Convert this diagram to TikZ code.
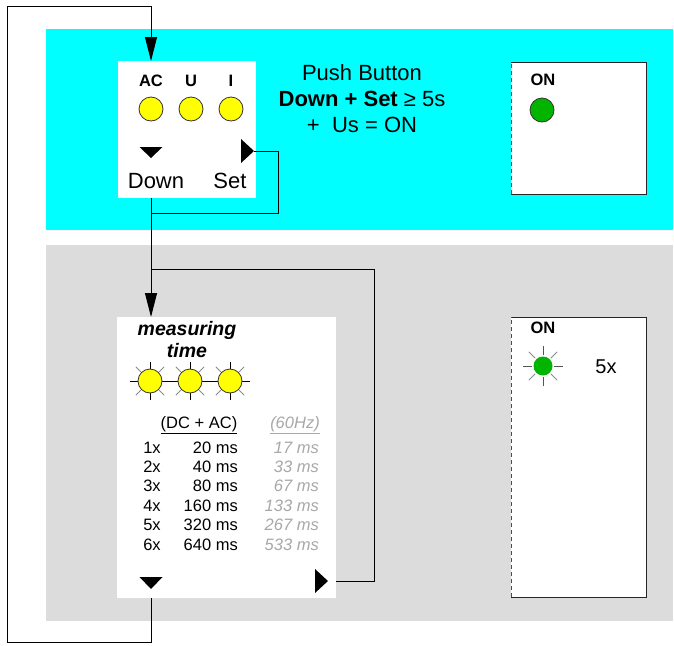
\documentclass[tikz,border=0pt]{standalone}
\usepackage{fontspec}
\setmainfont{Liberation Sans}
\usetikzlibrary{arrows.meta}
\definecolor{cyanbg}{HTML}{00FFFF}
\definecolor{graybg}{HTML}{DCDCDC}
\definecolor{ledyellow}{HTML}{FFFF00}
\definecolor{ledgreen}{HTML}{00B400}
\definecolor{dimtext}{HTML}{A8A8A8}
\definecolor{raydark}{HTML}{555555}
\definecolor{raylight}{HTML}{8C8C8C}
\begin{document}
\begin{tikzpicture}[x=1pt,y=-1pt,
  panel/.style={fill=#1, inner sep=0pt, anchor=north west, draw=none},
  whitebox/.style={fill=white, inner sep=0pt, anchor=north west, draw=none},
  wire/.style={line width=1pt, black},
  arr/.style={-{Triangle[length=24pt,width=12pt]}},
  led/.style={circle, fill=ledyellow, draw=black!80, line width=0.8pt, minimum size=24pt, inner sep=0pt},
  greenled/.style={circle, fill=ledgreen, draw=black!80, line width=0.8pt, minimum size=24pt, inner sep=0pt},
  smallbold/.style={inner sep=0pt, anchor=base, font=\fontsize{16.5}{18}\selectfont\bfseries},
  bigtxt/.style={inner sep=0pt, anchor=base, font=\fontsize{22}{26}\selectfont},
  pushtxt/.style={inner sep=0pt, anchor=base, font=\fontsize{22}{26}\selectfont},
  tabtxt/.style={inner sep=0pt, font=\fontsize{16.5}{19}\selectfont},
  dimtxt/.style={inner sep=0pt, text=dimtext, font=\fontsize{16.5}{19}\selectfont\itshape},
  boxedge/.style={draw=black!85, line width=0.9pt},
  dashedge/.style={draw=black!70, line width=1pt, dash pattern=on 4pt off 3pt}
]
\useasboundingbox (0,0) rectangle (674,645);
\fill[white] (0,0) rectangle (674,645);

% background panels
\node[panel=cyanbg, minimum width=627pt, minimum height=201pt] (top) at (46,29) {};
\node[panel=graybg, minimum width=627pt, minimum height=376pt] (bot) at (46,245) {};

% white boxes
\node[whitebox, minimum width=138pt, minimum height=137pt] (btn) at (118,61) {};
\node[whitebox, minimum width=219pt, minimum height=281pt] (meas) at (117,317) {};
\node[whitebox, minimum width=135pt, minimum height=132pt] (on1) at (511,62) {};
\node[whitebox, minimum width=135pt, minimum height=280pt] (on2) at (511,317) {};
\draw[boxedge] (on1.north west) -- (on1.north east) -- (on1.south east) -- (on1.south west);
\draw[dashedge] (on1.south west) -- (on1.north west);
\draw[boxedge] (on2.north west) -- (on2.north east) -- (on2.south east) -- (on2.south west);
\draw[dashedge] (on2.south west) -- (on2.north west);

% button box content
\node[smallbold] (lac) at (151,86) {AC};
\node[smallbold] (lu) at (191,86) {U};
\node[smallbold] (li) at (231,86) {I};
\node[led] (ledac) at (151,109) {};
\node[led] (ledu) at (191,109) {};
\node[led] (ledi) at (231,109) {};
\coordinate (d1) at (151,158);
\fill[black] (d1) -- (139.5,147) -- (162.5,147) -- cycle;
\coordinate (settip) at (254,151);
\fill[black] (settip) -- (241,139) -- (241,163) -- cycle;
\node[bigtxt] (ldown) at (156,188) {Down};
\node[bigtxt] (lset) at (230,188) {Set};

% push button text
\node[pushtxt] (p1) at (362,80) {Push Button};
\node[pushtxt] (p2) at (362,106) {\textbf{Down + Set} ≥ 5s};
\node[pushtxt] (p3) at (362,132) {+\ \ Us = ON};

% ON box 1
\node[smallbold] (on1lbl) at (543,85) {ON};
\node[greenled] (on1led) at (542,110) {};

% measuring box
\node[inner sep=0pt, anchor=base, font=\fontsize{19.5}{22}\selectfont\bfseries\itshape] (mt1) at (187,335) {measuring};
\node[inner sep=0pt, anchor=base, font=\fontsize{19.5}{22}\selectfont\bfseries\itshape] (mt2) at (187,357) {time};
\draw[black, line width=0.9pt] (130,381) -- (250,381);
\foreach \cx in {150,190,230} {
  \draw[black, line width=0.9pt] (\cx,362) -- (\cx,369) (\cx,393) -- (\cx,400);
  \foreach \a in {45,135,225,315}
    \draw[raylight, line width=0.9pt] (\cx,381) ++(\a:13) -- ++(\a:7);
}
\node[led] (st1) at (150,381) {};
\node[led] (st2) at (190,381) {};
\node[led] (st3) at (230,381) {};

\node[tabtxt, anchor=base] (hdc) at (199,428) {\underline{(DC + AC)}};
\node[dimtxt, anchor=base] (hhz) at (295,428) {\underline{(60Hz)}};
\foreach \n/\a/\b/\yy in {1/20/17/453,2/40/33/472,3/80/67/491,4/160/133/511,5/320/267/530,6/640/533/550} {
  \node[tabtxt, anchor=base] (r\n a) at (152,\yy) {\n x};
  \node[tabtxt, anchor=base east] (r\n b) at (238,\yy) {\a\ ms};
  \node[dimtxt, anchor=base east] (r\n c) at (319,\yy) {\b\ ms};
}
\coordinate (d2) at (151,589);
\fill[black] (d2) -- (139.5,577) -- (162.5,577) -- cycle;
\coordinate (rtip) at (328,581);
\fill[black] (rtip) -- (315,569) -- (315,593) -- cycle;

% ON box 2
\node[smallbold] (on2lbl) at (543,333) {ON};
\foreach \a in {0,90,180,270}
  \draw[raydark, line width=0.9pt] (543,366) ++(\a:11) -- ++(\a:9);
\foreach \a in {45,135,225,315}
  \draw[raylight, line width=0.9pt] (543,366) ++(\a:11) -- ++(\a:9);
\node[circle, fill=ledgreen, minimum size=19pt, inner sep=0pt] (on2led) at (543,366) {};
\node[inner sep=0pt, anchor=base, font=\fontsize{20}{24}\selectfont] (five) at (606,373) {5x};

% connectors
\coordinate (lb) at (7,642);
\coordinate (lt) at (7,6);
\coordinate (sr) at (278,213);
\coordinate (rr) at (374,269);
\draw[wire, arr] (d2 |- meas.south) |- (lb) -- (lt) -| (d1 |- btn.north);
\draw[wire] (settip) -| (sr) -- (d1 |- sr);
\draw[wire, arr] (d1 |- btn.south) -- (d1 |- meas.north);
\draw[wire] (meas.east |- rtip) -| (rr) -- (d1 |- rr);
\end{tikzpicture}
\end{document}
